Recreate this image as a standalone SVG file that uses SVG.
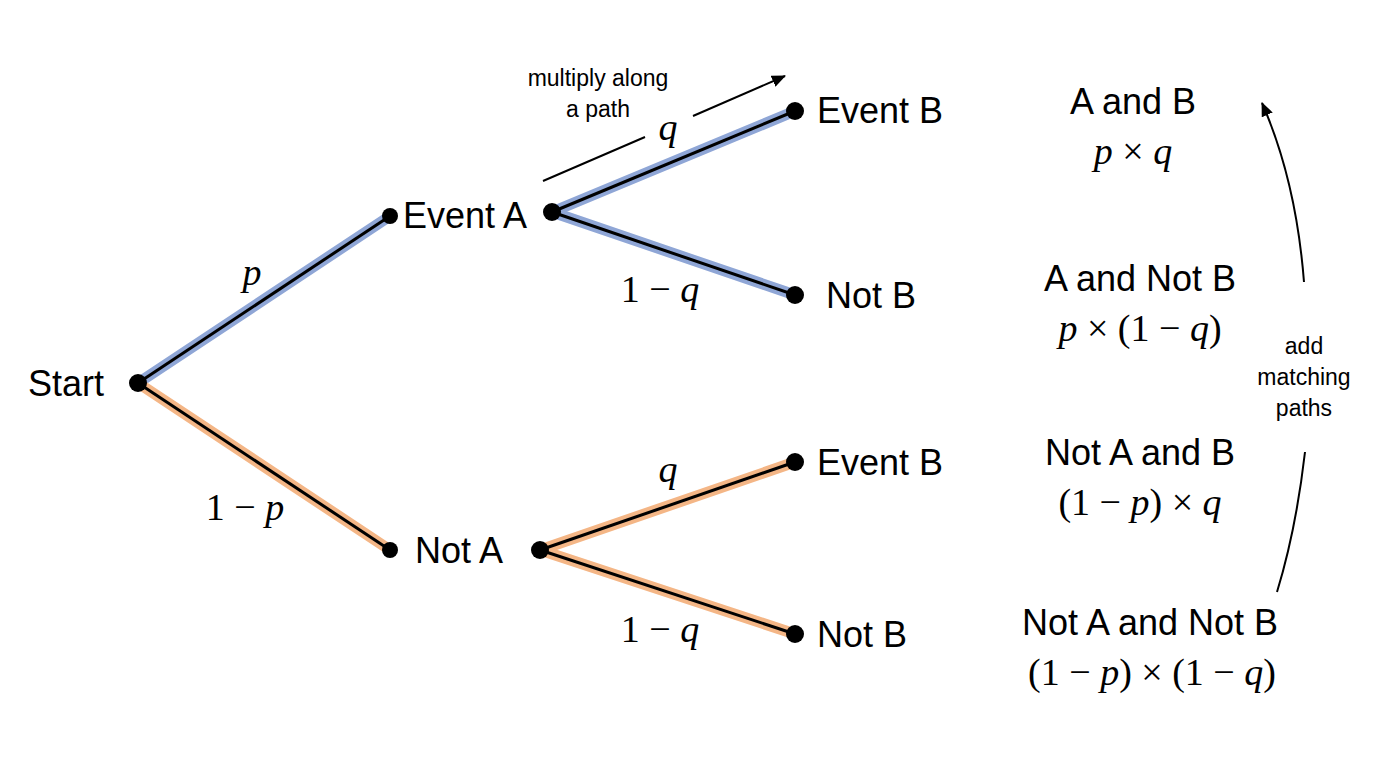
<svg xmlns="http://www.w3.org/2000/svg" width="1376" height="768" viewBox="0 0 1376 768">
<defs>
<style>
.s{font-family:"Liberation Sans",Arial,sans-serif;font-size:36px;fill:#000}
.sm{font-family:"Liberation Sans",Arial,sans-serif;font-size:23px;fill:#000;text-anchor:middle}
.m{font-family:"Liberation Serif","Times New Roman",serif;font-size:38px;fill:#000}
.i{font-style:italic}
.c{text-anchor:middle}
.hb{stroke:#8fa6d6;stroke-width:11;stroke-linecap:round;fill:none}
.ho{stroke:#f4b686;stroke-width:11;stroke-linecap:round;fill:none}
.e{stroke:#000;stroke-width:3;fill:none}
.a{stroke:#000;stroke-width:2;fill:none}
</style>
<marker id="ah" markerWidth="14" markerHeight="12" refX="13" refY="6" orient="auto" markerUnits="userSpaceOnUse" viewBox="0 0 14 12"><path d="M0,0 L14,6 L0,12 z" fill="#000"/></marker>
</defs>
<rect width="1376" height="768" fill="#fff"/>
<g id="connectors">
<path class="hb" d="M138,383 L390,216"/>
<path class="hb" d="M552,212 L795,111"/>
<path class="hb" d="M552,212 L795,295"/>
<path class="ho" d="M138,383 L390,550"/>
<path class="ho" d="M540,550 L795,462"/>
<path class="ho" d="M540,550 L795,634"/>
<path class="e" d="M138,383 L390,216"/>
<path class="e" d="M552,212 L795,111"/>
<path class="e" d="M552,212 L795,295"/>
<path class="e" d="M138,383 L390,550"/>
<path class="e" d="M540,550 L795,462"/>
<path class="e" d="M540,550 L795,634"/>
<text class="m i" x="252" y="285" text-anchor="middle">p</text>
<text class="m" x="245" y="520" text-anchor="middle">1 − <tspan class="i">p</tspan></text>
<text class="m i" x="668" y="140" text-anchor="middle">q</text>
<text class="m" x="660" y="302" text-anchor="middle">1 − <tspan class="i">q</tspan></text>
<text class="m i" x="668" y="482" text-anchor="middle">q</text>
<text class="m" x="660" y="642" text-anchor="middle">1 − <tspan class="i">q</tspan></text>
<path class="a" d="M543,181 L645,137"/>
<path class="a" d="M693,116 L785,76" marker-end="url(#ah)"/>
<text class="sm" x="598" y="86">multiply along</text>
<text class="sm" x="598" y="117">a path</text>
<path class="a" d="M1277,592 Q1296,530 1305,452"/>
<path class="a" d="M1304,282 Q1296,180 1262,103" marker-end="url(#ah)"/>
<text class="sm" x="1304" y="354">add</text>
<text class="sm" x="1304" y="385">matching</text>
<text class="sm" x="1304" y="416">paths</text>
</g>
<g id="start"><circle cx="138" cy="383" r="9"/><text class="s" x="28" y="396">Start</text></g>
<g id="eventA"><circle cx="390" cy="216" r="8"/><circle cx="552" cy="212" r="9"/><text class="s" x="403" y="228">Event A</text></g>
<g id="notA"><circle cx="390" cy="550" r="8"/><circle cx="540" cy="550" r="9"/><text class="s" x="415" y="563">Not A</text></g>
<g id="eventB1"><circle cx="795" cy="111" r="9"/><text class="s" x="817" y="123">Event B</text></g>
<g id="notB1"><circle cx="795" cy="295" r="9"/><text class="s" x="826" y="308">Not B</text></g>
<g id="eventB2"><circle cx="795" cy="462" r="9"/><text class="s" x="817" y="475">Event B</text></g>
<g id="notB2"><circle cx="795" cy="634" r="9"/><text class="s" x="817" y="647">Not B</text></g>
<g id="r1"><text class="s c" x="1133" y="114">A and B</text><text class="m c" x="1133" y="164"><tspan class="i">p</tspan> × <tspan class="i">q</tspan></text></g>
<g id="r2"><text class="s c" x="1140" y="291">A and Not B</text><text class="m c" x="1140" y="341"><tspan class="i">p</tspan> × (1 − <tspan class="i">q</tspan>)</text></g>
<g id="r3"><text class="s c" x="1140" y="465">Not A and B</text><text class="m c" x="1140" y="515">(1 − <tspan class="i">p</tspan>) × <tspan class="i">q</tspan></text></g>
<g id="r4"><text class="s c" x="1150" y="635">Not A and Not B</text><text class="m c" x="1152" y="685">(1 − <tspan class="i">p</tspan>) × (1 − <tspan class="i">q</tspan>)</text></g>
</svg>
